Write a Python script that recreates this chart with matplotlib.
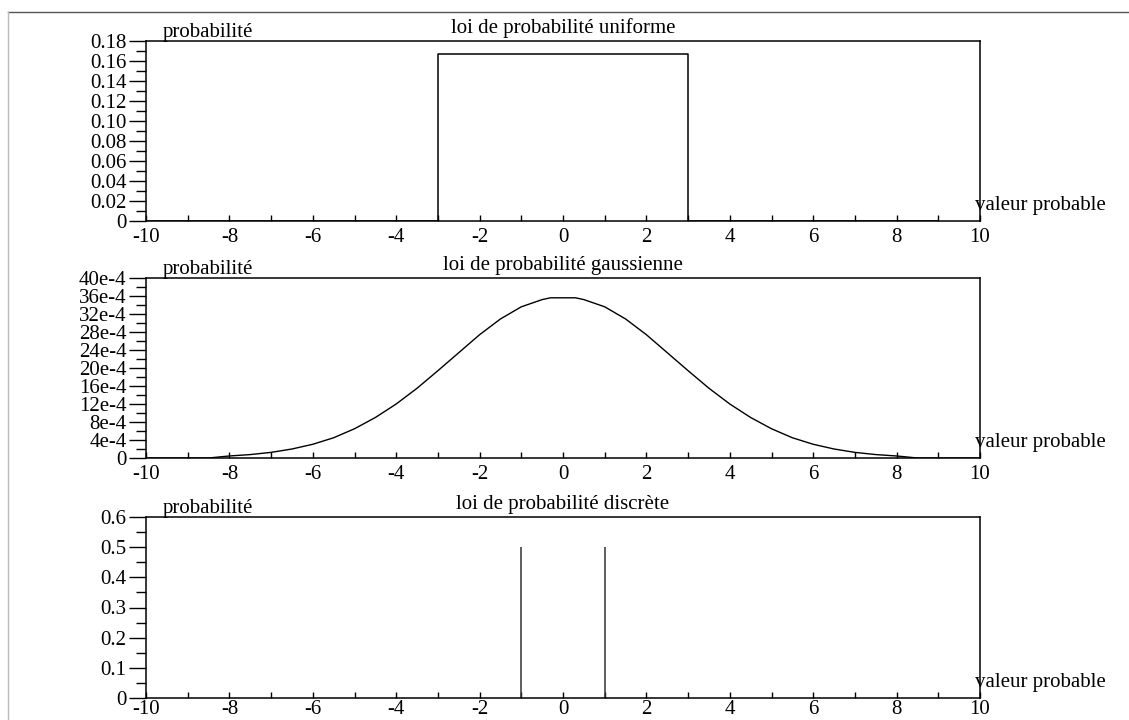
import matplotlib
matplotlib.use("Agg")
import matplotlib.pyplot as plt
from matplotlib.lines import Line2D
from matplotlib.ticker import MultipleLocator, FixedLocator

plt.rcParams['font.family'] = ['Liberation Serif', 'DejaVu Serif']

# ---- data ----
unif_x = [-10, -3, -3, 3, 3, 9]
unif_p = [0, 0, 0.1667, 0.1667, 0, 0]

gauss_x = [-10, -8.5, -8, -7.5, -7, -6.5, -6, -5.5, -5, -4.5, -4, -3.5, -3, -2.5, -2, -1.5, -1, -0.5,
           -0.3, 0.3, 0.5, 1, 1.5, 2, 2.5, 3, 3.5, 4, 4.5, 5, 5.5, 6, 6.5, 7, 7.5, 8, 8.5, 10]
gauss_p = [0, 0, 0.45, 0.76, 1.25, 2.0, 3.05, 4.5, 6.5, 9.0, 12.0, 15.5, 19.4, 23.4, 27.4, 30.9, 33.6, 35.2,
           35.6, 35.6, 35.2, 33.6, 30.9, 27.4, 23.4, 19.4, 15.5, 12.0, 9.0, 6.5, 4.5, 3.05, 2.0, 1.25, 0.76, 0.45, 0, 0]
gauss_p = [v * 1e-4 for v in gauss_p]

disc_x = [-1, 1]
disc_p = [0.5, 0.5]

x_ticks = [-10, -8, -6, -4, -2, 0, 2, 4, 6, 8, 10]
unif_yticks = [0, 0.02, 0.04, 0.06, 0.08, 0.10, 0.12, 0.14, 0.16, 0.18]
unif_ylabels = ['0', '0.02', '0.04', '0.06', '0.08', '0.10', '0.12', '0.14', '0.16', '0.18']
gauss_yticks = [0, 4e-4, 8e-4, 12e-4, 16e-4, 20e-4, 24e-4, 28e-4, 32e-4, 36e-4, 40e-4]
gauss_ylabels = ['0', '4e-4', '8e-4', '12e-4', '16e-4', '20e-4', '24e-4', '28e-4', '32e-4', '36e-4', '40e-4']
disc_yticks = [0, 0.1, 0.2, 0.3, 0.4, 0.5, 0.6]
disc_ylabels = ['0', '0.1', '0.2', '0.3', '0.4', '0.5', '0.6']

titles = ['loi de probabilité uniforme', 'loi de probabilité gaussienne', 'loi de probabilité discrète']

W, H = 1129, 720
fig = plt.figure(figsize=(W / 100, H / 100), dpi=100)

left = 146 / W
width = (980 - 146) / W
rows = [(41, 221), (278, 458), (517, 698)]
axes = []
for top, bot in rows:
    ax = fig.add_axes([left, 1 - bot / H, width, (bot - top) / H])
    axes.append(ax)

FS = 15

def style(ax, yticks, ylabels, ymax, yminor, title, xpad=5):
    ax.set_xlim(-10, 10)
    ax.set_ylim(0, ymax)
    ax.xaxis.set_major_locator(FixedLocator(x_ticks))
    ax.xaxis.set_minor_locator(MultipleLocator(1))
    ax.set_xticklabels([str(t) for t in x_ticks], fontsize=FS)
    ax.yaxis.set_major_locator(FixedLocator(yticks))
    ax.yaxis.set_minor_locator(MultipleLocator(yminor))
    ax.set_yticklabels(ylabels, fontsize=FS)
    ax.tick_params(axis='x', which='both', direction='in', length=4, width=1, pad=xpad)
    ax.tick_params(axis='y', which='major', direction='out', length=12, width=1, pad=2)
    ax.tick_params(axis='y', which='minor', direction='out', length=7, width=1)
    for s in ax.spines.values():
        s.set_linewidth(1.1)
        s.set_color('black')
    ax.text(0.5, 1.015, title, transform=ax.transAxes, ha='center', va='bottom', fontsize=FS)
    ax.text(0.02, 0.995, 'probabilité', transform=ax.transAxes, ha='left', va='bottom', fontsize=FS)
    ax.text(0.994, 0.035, 'valeur probable', transform=ax.transAxes, ha='left', va='bottom',
            fontsize=FS, clip_on=False)

ax1, ax2, ax3 = axes
ax1.plot(unif_x, unif_p, color='black', lw=1.1)
style(ax1, unif_yticks, unif_ylabels, 0.18, 0.01, titles[0])

ax2.plot(gauss_x, gauss_p, color='black', lw=1.0)
style(ax2, gauss_yticks, gauss_ylabels, 40e-4, 2e-4, titles[1])

ax3.vlines(disc_x, 0, disc_p, color='#333333', lw=1.1)
style(ax3, disc_yticks, disc_ylabels, 0.6, 0.05, titles[2], xpad=1.5)

# outer frame lines
fig.add_artist(Line2D([8 / W, 1], [1 - 12 / H, 1 - 12 / H], color='#555555', lw=1.0))
fig.add_artist(Line2D([8 / W, 8 / W], [0, 1 - 12 / H], color='#bbbbbb', lw=1.0))

fig.savefig('out.png', dpi=100)
